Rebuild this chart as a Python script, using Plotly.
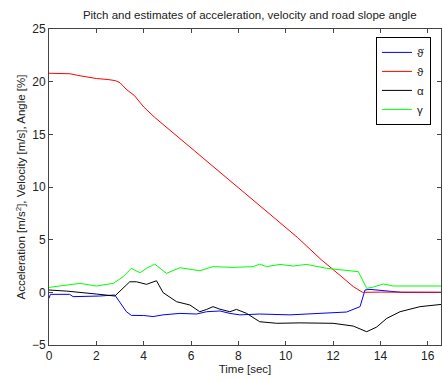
import plotly.graph_objects as go

# Velocity estimate (red)
t_vel = [0, 0.9, 1.2, 2.0, 2.5, 2.8, 3.0, 3.3, 3.6, 4.0, 4.47, 5.0, 6.0, 7.0, 7.64,
         8.5, 9.5, 10.5, 11.5, 12.3, 12.85, 13.1, 13.25, 14.0, 15.0, 16.6]
vel = [20.8, 20.75, 20.6, 20.3, 20.2, 20.1, 19.9, 19.2, 18.7, 17.6, 16.6, 15.6, 13.7,
       11.9, 10.65, 9.0, 7.1, 5.2, 3.1, 1.6, 0.55, 0.2, 0.0, 0.02, 0.02, 0.0]

# Acceleration estimate (blue)
t_acc = [0, 0.06, 0.87, 1.02, 2.14, 2.78, 3.27, 3.48, 4.0, 4.4, 4.82, 5.53, 6.23, 6.66,
         7.22, 7.64, 8.06, 8.9, 10.18, 11.3, 12.57, 13.14, 13.35, 13.56, 14.83, 14.9, 16.6]
acc = [-0.57, -0.19, -0.19, -0.41, -0.35, -0.25, -1.84, -2.19, -2.2, -2.3, -2.14, -2.0,
       -2.06, -1.84, -1.77, -2.0, -2.14, -2.06, -2.14, -2.0, -1.87, -1.36, 0.22, 0.28,
       0.06, 0.0, 0.0]

# Pitch (black)
t_pitch = [0, 0.73, 2.0, 2.78, 3.41, 3.7, 4.12, 4.4, 4.54, 4.82, 5.39, 5.95, 6.37, 6.66,
           6.93, 7.22, 7.64, 7.92, 8.35, 8.9, 9.62, 10.6, 12.0, 12.85, 13.42, 13.84,
           14.27, 14.83, 15.67, 16.6]
pitch = [0.22, 0.12, -0.16, -0.35, 1.0, 1.0, 0.76, 1.0, 1.1, -0.03, -0.89, -1.2, -1.84,
         -1.62, -1.36, -1.6, -1.84, -1.62, -2.0, -2.79, -2.94, -2.9, -2.94, -3.2, -3.74,
         -3.3, -2.47, -1.84, -1.36, -1.14]

# Road slope angle (green)
t_slope = [0, 0.73, 1.3, 2.0, 2.71, 3.13, 3.48, 3.84, 4.12, 4.47, 4.96, 5.53, 6.37, 6.93,
           7.78, 8.63, 8.9, 9.19, 9.76, 10.32, 10.88, 11.73, 13.07, 13.42, 13.7, 14.12,
           14.55, 16.6]
slope = [0.47, 0.66, 0.85, 0.6, 0.85, 1.48, 2.28, 1.86, 2.28, 2.68, 1.8, 2.34, 2.05, 2.44,
         2.37, 2.44, 2.68, 2.44, 2.65, 2.5, 2.65, 2.28, 1.96, 0.38, 0.5, 0.79, 0.6, 0.6]

x_ticks = [0, 2, 4, 6, 8, 10, 12, 14, 16]
y_ticks = [-5, 0, 5, 10, 15, 20, 25]

fig = go.Figure()
fig.add_trace(go.Scatter(x=t_acc, y=acc, mode="lines", name="ϑ̇",
                         line=dict(color="#0000ff", width=1)))
fig.add_trace(go.Scatter(x=t_vel, y=vel, mode="lines", name="ϑ",
                         line=dict(color="#ff0000", width=1)))
fig.add_trace(go.Scatter(x=t_pitch, y=pitch, mode="lines", name="α",
                         line=dict(color="#000000", width=1)))
fig.add_trace(go.Scatter(x=t_slope, y=slope, mode="lines", name="γ",
                         line=dict(color="#00ff00", width=1)))

axis_style = dict(showgrid=False, zeroline=False, showline=True, linecolor="#444444",
                  linewidth=1, mirror="ticks", ticks="inside", ticklen=4,
                  tickcolor="#444444", tickfont=dict(size=12, color="#222222"))

fig.update_layout(
    width=442, height=381,
    margin=dict(l=49, r=1, t=29, b=36),
    paper_bgcolor="white", plot_bgcolor="white",
    font=dict(family="Liberation Sans, Arial, sans-serif", size=11.5, color="#222222"),
    title=dict(text="Pitch and estimates of acceleration, velocity and road slope angle",
               x=0.565, xanchor="center", y=0.962, yanchor="middle",
               font=dict(size=11.5)),
    xaxis=dict(range=[0, 16.56], tickvals=x_ticks,
               title=dict(text="Time [sec]", standoff=1, font=dict(size=11.5)),
               **axis_style),
    yaxis=dict(range=[-5, 25], tickvals=y_ticks,
               title=dict(text="Acceleration [m/s<sup>2</sup>], Velocity [m/s], Angle [%]",
                          standoff=3, font=dict(size=11.5)),
               **axis_style),
    legend=dict(x=0.834, y=0.975, xanchor="left", yanchor="top",
                bgcolor="white", bordercolor="#000000", borderwidth=1,
                font=dict(size=11.5), tracegroupgap=0, itemwidth=30),
    showlegend=True,
)

fig.write_html("out.html")
